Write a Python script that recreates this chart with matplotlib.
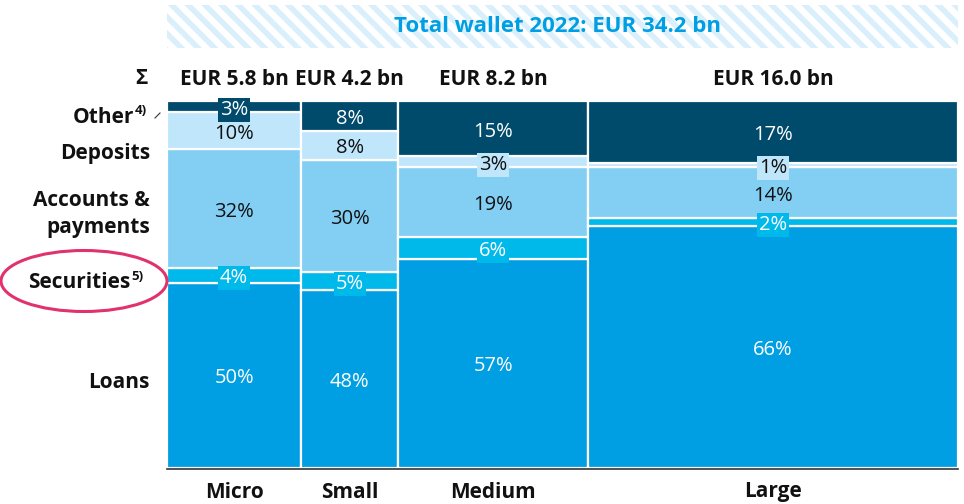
import matplotlib.pyplot as plt
from matplotlib.patches import Ellipse, Rectangle

plt.rcParams['font.family'] = ['Open Sans', 'DejaVu Sans']
plt.rcParams['hatch.linewidth'] = 4

segments = ['Micro', 'Small', 'Medium', 'Large']
totals = [5.8, 4.2, 8.2, 16.0]
total_label = ['EUR 5.8 bn', 'EUR 4.2 bn', 'EUR 8.2 bn', 'EUR 16.0 bn']
products = ['Loans', 'Securities', 'Accounts & payments', 'Deposits', 'Other']
loans = [50, 48, 57, 66]
securities = [4, 5, 6, 2]
accounts = [32, 30, 19, 14]
deposits = [10, 8, 3, 1]
other = [3, 8, 15, 17]

colors = ['#009fe3', '#00b9eb', '#83cff4', '#bfe6fa', '#004b6b']
txt_colors = ['white', 'white', '#111111', '#111111', 'white']

W, H = 964, 504
fig = plt.figure(figsize=(W / 100, H / 100), dpi=100)


def fx(x):
    return x / W


def fy(y):
    return 1 - y / H


# plot area in pixels
L, R, T, B = 167, 958, 101, 468
ax = fig.add_axes([fx(L), fy(B), fx(R - L), (B - T) / H])
ax.set_xlim(0, sum(totals))
ax.set_ylim(0, 1)
ax.axis('off')

series = [loans, securities, accounts, deposits, other]
x0 = 0
for i, w in enumerate(totals):
    vals = [s[i] for s in series]
    tot = sum(vals)
    bottom = 0
    for k, v in enumerate(vals):
        h = v / tot
        ax.bar(x0, h, width=w, bottom=bottom, align='edge', color=colors[k],
               edgecolor='white', linewidth=1.6)
        cy = bottom + h / 2 - 3 / (B - T)
        box = None
        if v <= 6:
            box = dict(boxstyle='square,pad=0.1', fc=colors[k], ec='none')
        ax.text(x0 + w / 2, cy, f'{v}%', ha='center', va='center',
                fontsize=14.5, color=txt_colors[k], bbox=box)
        bottom += h
    ax.text(x0 + w / 2, 1.0 + 22 / (B - T), total_label[i], ha='center', va='center',
            fontsize=15, fontweight='bold', color='#111111')
    ax.text(x0 + w / 2, -24 / (B - T), segments[i], ha='center', va='center',
            fontsize=15, fontweight='bold', color='#111111')
    x0 += w

# baseline
fig.add_artist(plt.Line2D([fx(L), fx(R)], [fy(469), fy(469)], color='#333333', lw=1.2))

# header row symbol
fig.text(fx(141), fy(79), 'Σ', ha='center', va='center', fontsize=15,
         fontweight='bold', color='#111111')

# row labels
lab = dict(ha='right', va='center', fontsize=15, fontweight='bold', color='#111111')
fig.text(fx(134), fy(117), 'Other', **lab)
fig.text(fx(135), fy(111), '4)', ha='left', va='center', fontsize=9.5,
         fontweight='bold', color='#111111')
fig.add_artist(plt.Line2D([fx(155), fx(160)], [fy(118), fy(113)], color='#333333', lw=0.8))
fig.text(fx(150), fy(153), 'Deposits', **lab)
fig.text(fx(150), fy(201), 'Accounts &', **lab)
fig.text(fx(150), fy(228), 'payments', **lab)
fig.text(fx(130), fy(283), 'Securities', **lab)
fig.text(fx(131), fy(277), '5)', ha='left', va='center', fontsize=9.5,
         fontweight='bold', color='#111111')
fig.text(fx(150), fy(383), 'Loans', **lab)

# highlight ellipse
fig.add_artist(Ellipse((fx(84), fy(281)), fx(166), 61 / H, fill=False,
                       ec='#e0336b', lw=2.2, transform=fig.transFigure))

# title banner with hatch
banner = Rectangle((fx(167), fy(48)), fx(791), 43 / H, transform=fig.transFigure,
                   fc='white', ec='#d9effc', lw=0, hatch='\\\\')
fig.add_artist(banner)
fig.text(fx(558), fy(27), 'Total wallet 2022: EUR 34.2 bn', ha='center', va='center',
         fontsize=16, fontweight='bold', color='#009fe3')

fig.savefig('out.png', dpi=100)
